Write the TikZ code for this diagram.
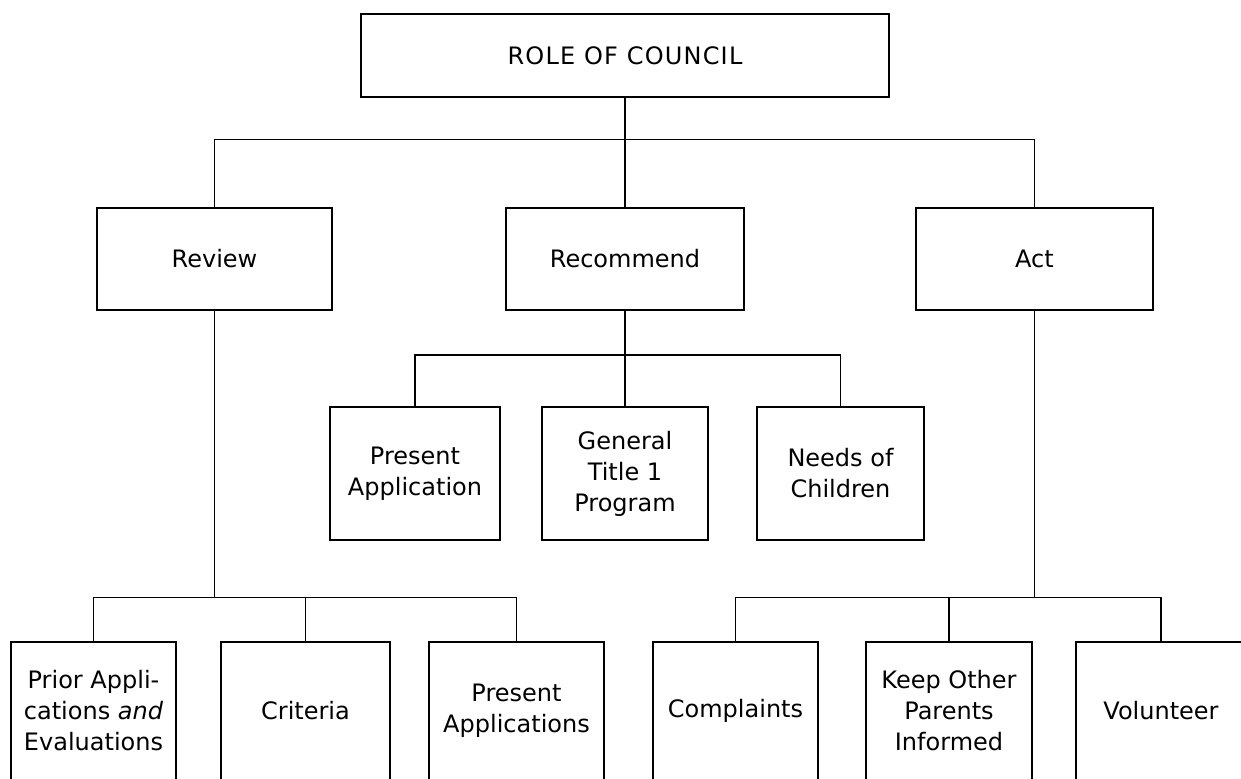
\documentclass[tikz,border=0pt]{standalone}
\usepackage{fontspec}
\setmainfont{DejaVu Sans}
\newfontfamily\titlefont[LetterSpace=5]{DejaVu Sans}
\tikzset{
  orgbox/.style={draw, line width=0.8pt, inner sep=0pt, align=center,
    font=\fontsize{12}{15.5}\selectfont},
  openbox/.style={orgbox, draw=none},
  link/.style={line width=0.8pt},
}
\newcommand{\openframe}[1]{%
  \draw[link] ([yshift=-12pt]#1.south west) -- (#1.north west) -- (#1.north east) -- ([yshift=-12pt]#1.south east);}
\begin{document}
\begin{tikzpicture}[x=0.5pt,y=-0.5pt]
\useasboundingbox (0,0) rectangle (1241,778);
% top
\node[orgbox, minimum width=264pt, minimum height=41.5pt, font=\fontsize{12}{15.5}\titlefont] (top) at (625,55.5) {ROLE OF COUNCIL};
% level 1
\node[orgbox, minimum width=117.5pt, minimum height=51pt] (review) at (214.5,259) {Review};
\node[orgbox, minimum width=119pt, minimum height=51pt] (recommend) at (625,259) {Recommend};
\node[orgbox, minimum width=118.5pt, minimum height=51pt] (act) at (1034.5,259) {Act};
% recommend children
\node[orgbox, minimum width=85pt, minimum height=66.5pt] (presapp) at (415,473.5) {Present\\Application};
\node[orgbox, minimum width=83pt, minimum height=66.5pt] (general) at (625,473.5) {General\\Title 1\\Program};
\node[orgbox, minimum width=83.5pt, minimum height=66.5pt] (needs) at (840.5,473.5) {Needs of\\Children};
% review children (boxes run off the bottom edge)
\node[openbox, minimum width=81.5pt, minimum height=68pt] (prior) at (93.5,711) {Prior Appli-\\cations \textit{and}\\Evaluations};
\node[openbox, minimum width=83.5pt, minimum height=68pt] (criteria) at (305.5,711) {Criteria};
\node[openbox, minimum width=86.5pt, minimum height=68pt] (presapps) at (516.5,711) {Present\\Applications};
% act children
\node[openbox, minimum width=81.5pt, minimum height=68pt] (complaints) at (735.5,711) {Complaints};
\node[openbox, minimum width=82pt, minimum height=68pt] (keep) at (949,711) {Keep Other\\Parents\\Informed};
\node[openbox, minimum width=84pt, minimum height=68pt] (volunteer) at (1161,711) {Volunteer};
\openframe{prior}
\openframe{criteria}
\openframe{presapps}
\openframe{complaints}
\openframe{keep}
\openframe{volunteer}
% connectors
\draw[link] (top.south) -- ++(0,41.5) coordinate (tb);
\draw[link] (review.north) |- (tb) -| (act.north);
\draw[link] (tb) -- (recommend.north);
\draw[link] (recommend.south) -- ++(0,44) coordinate (mb);
\draw[link] (presapp.north) |- (mb) -| (needs.north);
\draw[link] (mb) -- (general.north);
\draw[link] (review.south) -- ++(0,286.5) coordinate (rb);
\draw[link] (prior.north) |- (rb) -| (presapps.north);
\draw[link] (criteria.north) |- (rb);
\draw[link] (act.south) -- ++(0,286.5) coordinate (ab);
\draw[link] (complaints.north) |- (ab) -| (volunteer.north);
\draw[link] (keep.north) |- (ab);
\end{tikzpicture}
\end{document}
